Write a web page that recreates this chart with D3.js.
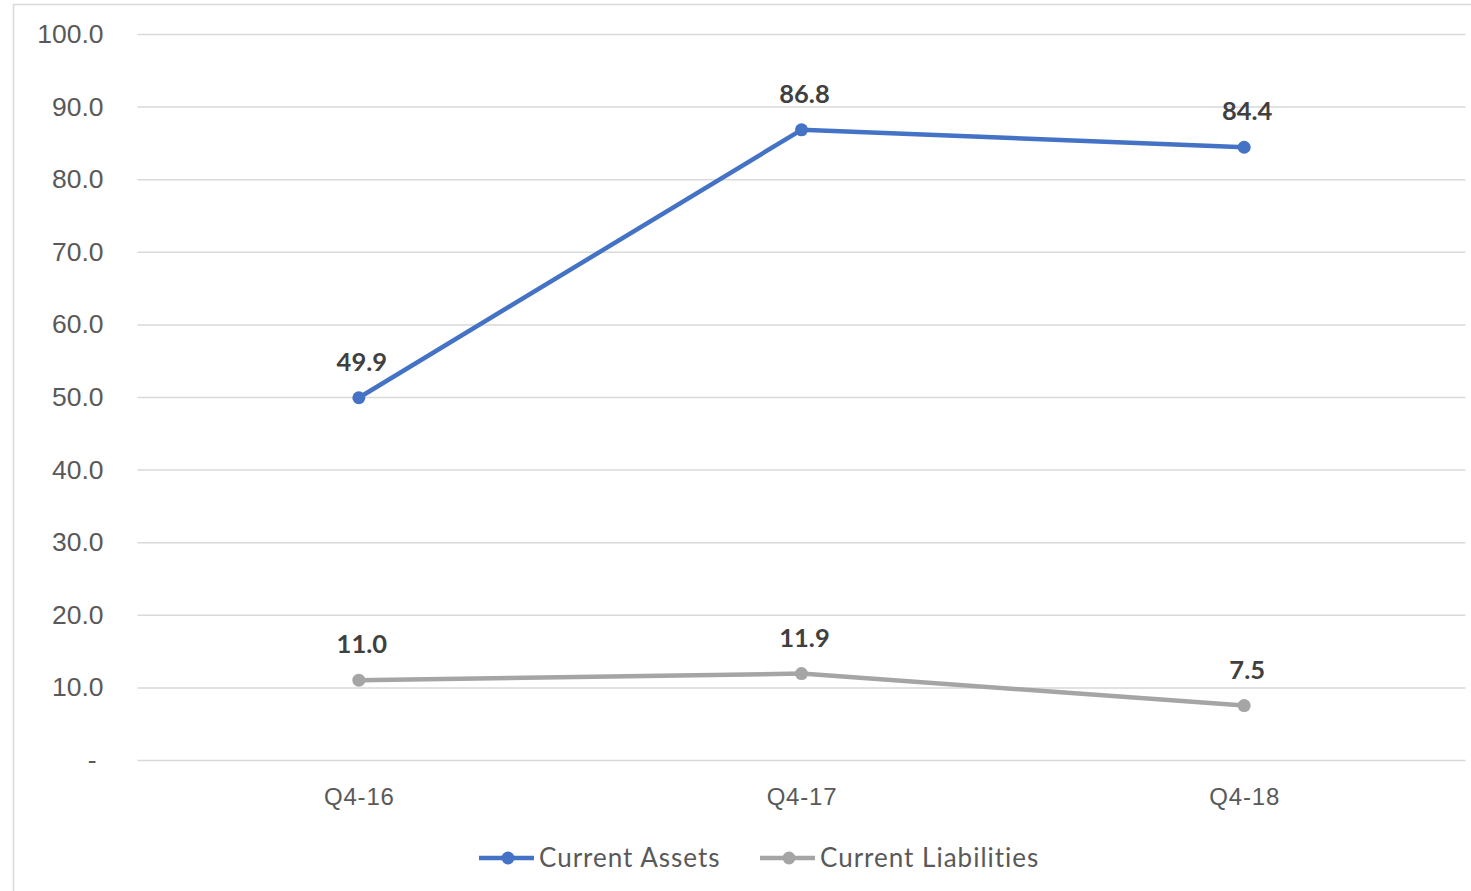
<!DOCTYPE html>
<html>
<head>
<meta charset="utf-8">
<script src="https://cdn.jsdelivr.net/npm/d3@7"></script>
<style>
  body { margin: 0; background: #fff; }
  svg { display: block; font-family: Lato, "Open Sans", sans-serif; }
</style>
</head>
<body>
<svg id="chart" width="1471" height="891"></svg>
<script>
const categories = ['Q4-16', 'Q4-17', 'Q4-18'];
const currentAssets = [49.9, 86.8, 84.4];
const currentLiabilities = [11.0, 11.9, 7.5];
const yTicks = [0, 10, 20, 30, 40, 50, 60, 70, 80, 90, 100];

const series = [
    {name: 'Current Assets', values: currentAssets, color: '#4472C4'},
    {name: 'Current Liabilities', values: currentLiabilities, color: '#A5A5A5'}
];

const width = 1471;
const height = 891;
const margin = {top: 34, right: 5.5, bottom: 131, left: 137.5};

const svg = d3.select('#chart');

// outer chart border (runs off the right/bottom edge like the original)
svg.append('rect')
    .attr('x', 13.5).attr('y', 4.5)
    .attr('width', 1480).attr('height', 900)
    .attr('fill', 'none')
    .attr('stroke', '#D9D9D9')
    .attr('stroke-width', 1.5);

const x = d3.scalePoint()
    .domain(categories)
    .range([margin.left, width - margin.right])
    .padding(0.5);

const y = d3.scaleLinear()
    .domain([0, 100])
    .range([height - margin.bottom, margin.top]);

// gridlines + y labels
const yAxis = d3.axisLeft(y)
    .tickValues(yTicks)
    .tickSize(-(width - margin.left - margin.right))
    .tickPadding(34)
    .tickFormat(d => d === 0 ? '-' : d.toFixed(1));

svg.append('g')
    .attr('transform', `translate(${margin.left},0)`)
    .call(yAxis)
    .call(g => g.select('.domain').remove())
    .call(g => g.selectAll('.tick line').attr('stroke', '#D9D9D9').attr('stroke-width', 1.5))
    .call(g => g.selectAll('.tick text')
        .attr('fill', '#595959')
        .style('font-size', '26.5px'))
    // accounting-style dash sits a bit left of the decimal column
    .call(g => g.selectAll('.tick text').filter(d => d === 0).attr('x', -41));

// x labels
svg.append('g')
    .attr('transform', `translate(0,${height - margin.bottom})`)
    .call(d3.axisBottom(x).tickSize(0).tickPadding(28))
    .call(g => g.select('.domain').remove())
    .call(g => g.selectAll('.tick text')
        .attr('fill', '#595959')
        .style('font-size', '24px')
        .style('letter-spacing', '0.8px'));

const line = d3.line()
    .x((d, i) => x(categories[i]))
    .y(d => y(d));

series.forEach(s => {
    svg.append('path')
        .datum(s.values)
        .attr('fill', 'none')
        .attr('stroke', s.color)
        .attr('stroke-width', 4.5)
        .attr('stroke-linejoin', 'round')
        .attr('d', line);

    svg.append('g').selectAll('circle')
        .data(s.values)
        .join('circle')
        .attr('cx', (d, i) => x(categories[i]))
        .attr('cy', d => y(d))
        .attr('r', 6.5)
        .attr('fill', s.color);

    svg.append('g').selectAll('text')
        .data(s.values)
        .join('text')
        .attr('x', (d, i) => x(categories[i]) + 3)
        .attr('y', d => y(d) - 27)
        .attr('text-anchor', 'middle')
        .attr('fill', '#404040')
        .style('font-size', '25.5px')
        .style('font-weight', 'bold')
        .text(d => d.toFixed(1));
});

// legend
const legendX = [479, 760];
const legend = svg.append('g').attr('transform', 'translate(0,858)');
series.forEach((s, i) => {
    const g = legend.append('g').attr('transform', `translate(${legendX[i]},0)`);
    g.append('line')
        .attr('x1', 0).attr('x2', 55)
        .attr('stroke', s.color).attr('stroke-width', 4.5);
    g.append('circle').attr('cx', 29).attr('r', 6.5).attr('fill', s.color);
    g.append('text')
        .attr('x', 60).attr('dy', '0.35em')
        .attr('fill', '#595959')
        .style('font-size', '26px')
        .style('letter-spacing', '1px')
        .text(s.name);
});
</script>
</body>
</html>
